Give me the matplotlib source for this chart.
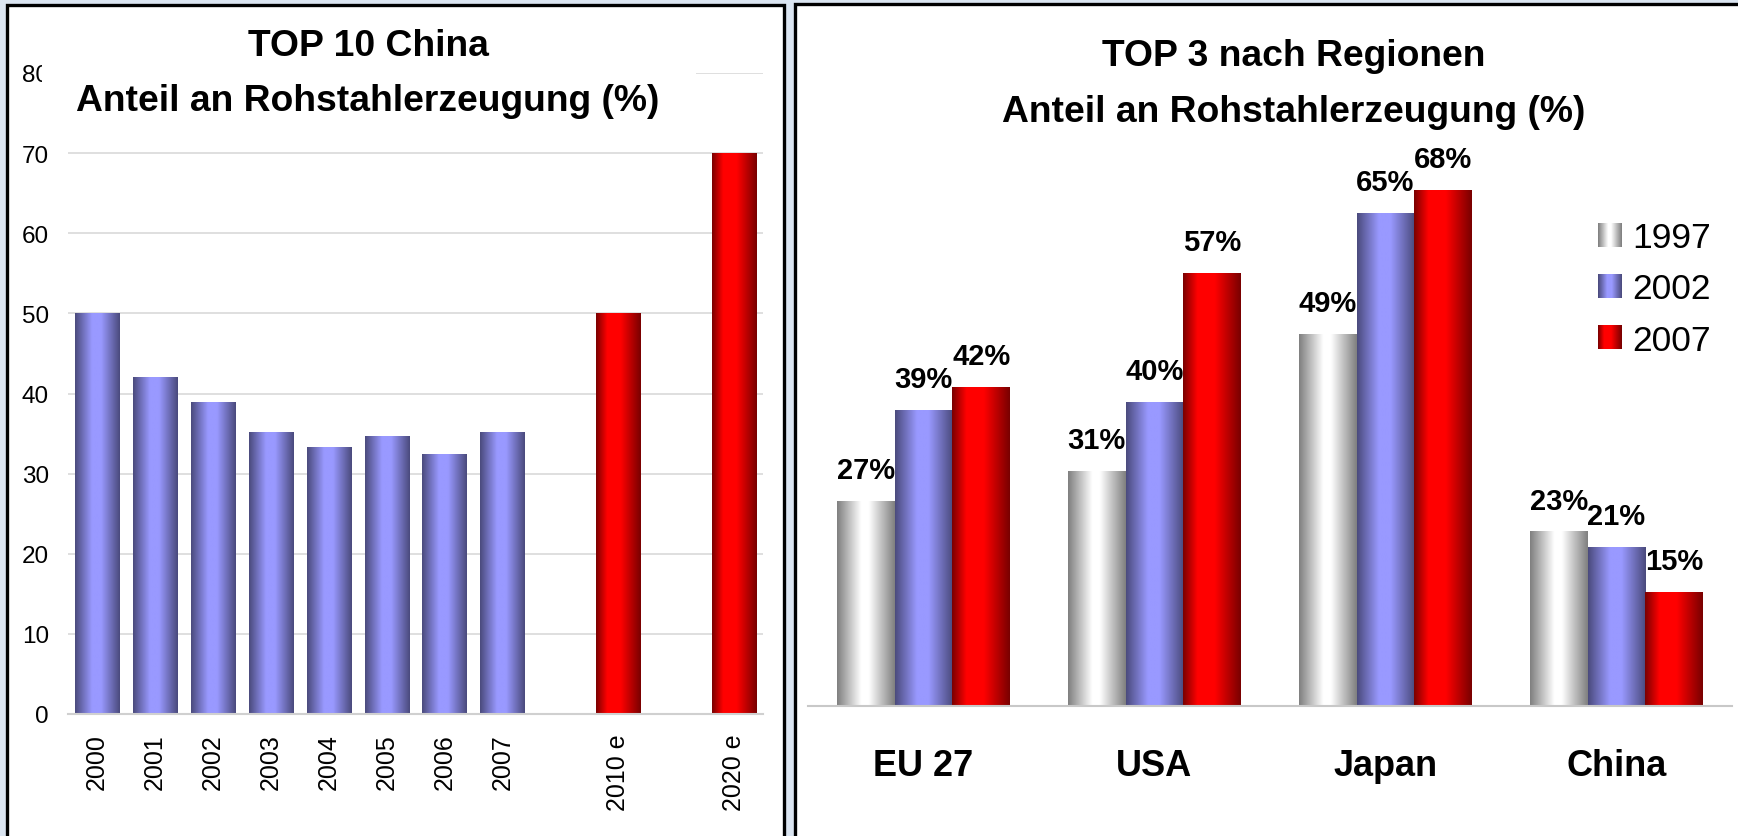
import numpy as np
import matplotlib
matplotlib.use("Agg")
import matplotlib.pyplot as plt
from matplotlib.colors import LinearSegmentedColormap
from matplotlib.patches import Rectangle
from matplotlib.legend_handler import HandlerBase
from matplotlib.image import BboxImage
from matplotlib.transforms import Bbox, TransformedBbox

plt.rcParams['font.family'] = ['Liberation Sans', 'DejaVu Sans']

# left chart: China, share of crude steel production (%)
cats_left = ['2000', '2001', '2002', '2003', '2004', '2005', '2006', '2007', '', '2010 e', '', '2020 e']
share_left = [50, 42, 39, 35.2, 33.3, 34.7, 32.5, 35.2, np.nan, 50, np.nan, 70]
yticks_left = [0, 10, 20, 30, 40, 50, 60, 70, 80]

# right chart: top 3 share by region (%)
regions = ['EU 27', 'USA', 'Japan', 'China']
years_right = ['1997', '2002', '2007']
share_1997 = [27, 31, 49, 23]
share_2002 = [39, 40, 65, 21]
share_2007 = [42, 57, 68, 15]

W, H = 1738, 837


def fx(px):
    return px / W


def fy(py):
    return 1 - py / H


gray_cm = LinearSegmentedColormap.from_list('g', [(0, '#7f7f7f'), (0.42, '#ffffff'), (0.55, '#ffffff'), (1, '#7f7f7f')])
blue_cm = LinearSegmentedColormap.from_list('b', [(0, '#4a4a7c'), (0.38, '#9999ff'), (0.58, '#9999ff'), (1, '#4a4a7c')])
red_cm = LinearSegmentedColormap.from_list('r', [(0, '#7a0000'), (0.25, '#ff0000'), (0.55, '#ff0000'), (1, '#780000')])


def fill_gradient(ax, bar, cmap):
    h = bar.get_height()
    if not np.isfinite(h) or h == 0:
        return
    x0, w = bar.get_x(), bar.get_width()
    grad = np.linspace(0, 1, 256).reshape(1, -1)
    im = ax.imshow(grad, cmap=cmap, aspect='auto', interpolation='bilinear',
                   extent=(x0, x0 + w, 0, h), zorder=2)
    im.set_clip_path(bar)
    bar.set_facecolor('none')
    bar.set_edgecolor('none')


class GradientHandler(HandlerBase):
    def __init__(self, cmap):
        super().__init__()
        self.cmap = cmap

    def create_artists(self, legend, orig_handle, xdescent, ydescent, width, height, fontsize, trans):
        bb = TransformedBbox(Bbox.from_bounds(-xdescent, -ydescent, width, height), trans)
        img = BboxImage(bb, cmap=self.cmap, interpolation='bilinear')
        img.set_data(np.linspace(0, 1, 64).reshape(1, -1))
        img.set_clim(0, 1)
        return [img]


fig = plt.figure(figsize=(W / 100, H / 100), dpi=100)
fig.patch.set_facecolor('#dbe5f1')

# panel frames
fig.patches.append(Rectangle((fx(6.7), -0.1), fx(784.3 - 6.7), fy(5.5) + 0.1, transform=fig.transFigure,
                             facecolor='white', edgecolor='black', linewidth=2.4, zorder=-1))
fig.patches.append(Rectangle((fx(795), -0.1), 0.6, fy(5.3) + 0.1, transform=fig.transFigure,
                             facecolor='white', edgecolor='black', linewidth=2.4, zorder=-1))

# ---- left chart ----
ax1 = fig.add_axes([fx(68), fy(715), fx(763 - 68), (715 - 74) / H])
ax1.set_facecolor('none')
x = np.arange(len(cats_left))
bars = ax1.bar(x, share_left, width=0.76, zorder=2)
for b, c in zip(bars, cats_left):
    fill_gradient(ax1, b, red_cm if c.endswith('e') else blue_cm)
ax1.set_xlim(-0.5, len(cats_left) - 0.5)
ax1.set_ylim(0, 80)
ax1.set_yticks(yticks_left)
ax1.set_xticks(x)
ax1.set_xticklabels(cats_left, rotation=90, fontsize=18)
ax1.tick_params(axis='y', length=0, pad=13.7, labelsize=17.5)
ax1.tick_params(axis='x', length=0, pad=14)
ax1.grid(axis='y', color='#d9d9d9', linewidth=1.2, zorder=0)
ax1.set_axisbelow(True)
for s in ['top', 'right', 'left']:
    ax1.spines[s].set_visible(False)
ax1.spines['bottom'].set_color('#d0d0d0')
ax1.spines['bottom'].set_linewidth(1.5)

# white box behind the left title
fig.patches.append(Rectangle((fx(42), fy(130)), fx(696 - 42), (130 - 15) / H, transform=fig.transFigure,
                             facecolor='white', edgecolor='none', zorder=1))
fig.text(fx(368), fy(56), 'TOP 10 China', ha='center', va='baseline', fontsize=26.8, fontweight='bold')
fig.text(fx(368), fy(111), 'Anteil an Rohstahlerzeugung (%)', ha='center', va='baseline',
         fontsize=26.8, fontweight='bold')

# ---- right chart ----
ax2 = fig.add_axes([fx(808), fy(707), fx(1732 - 808), 80 * 7.59 / H])
ax2.set_facecolor('none')
xr = np.arange(len(regions))
width = 0.25
series = [share_1997, share_2002, share_2007]
cmaps = [gray_cm, blue_cm, red_cm]
for i, (vals, cm) in enumerate(zip(series, cmaps)):
    bs = ax2.bar(xr + (i - 1) * width, vals, width=width, zorder=2)
    for b, v in zip(bs, vals):
        fill_gradient(ax2, b, cm)
        ax2.annotate(f'{v}%', xy=(b.get_x() + b.get_width() / 2, v), xytext=(0, 16.5),
                     textcoords='offset points', ha='center', va='baseline',
                     fontsize=21, fontweight='bold', zorder=4)
ax2.set_xlim(-0.5, len(regions) - 0.5)
ax2.set_ylim(0, 80)
ax2.set_yticks([])
ax2.set_xticks(xr)
ax2.set_xticklabels(regions, fontsize=26, fontweight='bold')
ax2.tick_params(axis='x', length=0, pad=30)
for s in ['top', 'right', 'left']:
    ax2.spines[s].set_visible(False)
ax2.spines['bottom'].set_color('#c8c8c8')
ax2.spines['bottom'].set_linewidth(1.5)

handles = [Rectangle((0, 0), 1, 1) for _ in years_right]
ax2.legend(handles, years_right, handler_map={h: GradientHandler(cm) for h, cm in zip(handles, cmaps)},
           loc='upper left', bbox_to_anchor=(fx(1598), fy(222)), bbox_transform=fig.transFigure,
           frameon=False, fontsize=25.5, handlelength=0.66, handleheight=0.66, handletextpad=0.3,
           labelspacing=0.52, borderpad=0, borderaxespad=0)

fig.text(fx(1294), fy(65.5), 'TOP 3 nach Regionen', ha='center', va='baseline', fontsize=26.8, fontweight='bold')
fig.text(fx(1294), fy(122), 'Anteil an Rohstahlerzeugung (%)', ha='center', va='baseline',
         fontsize=26.8, fontweight='bold')

fig.savefig('out.png', dpi=100)
